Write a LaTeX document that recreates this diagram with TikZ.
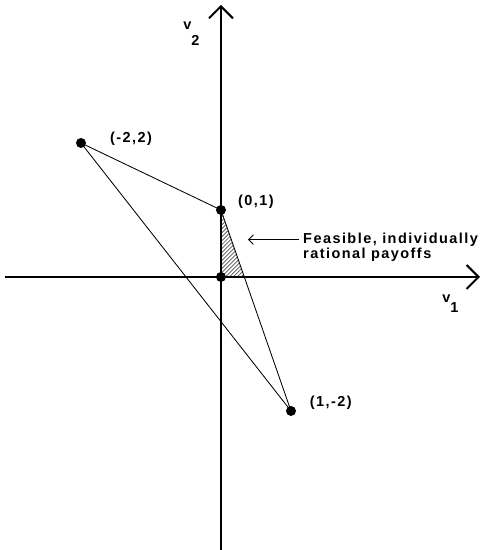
\documentclass[tikz,border=0pt]{standalone}
\usepackage{fontspec}
\setmainfont{Liberation Sans}
\newfontfamily\lblfont[LetterSpace=10]{Liberation Sans}
\usetikzlibrary{arrows.meta,positioning,patterns.meta}
\tikzset{
  axis/.style={line width=1.4pt, -{Straight Barb[length=3mm,width=6mm]}},
  edge/.style={line width=0.6pt},
  dot/.style={circle, fill=black, inner sep=0pt, minimum size=2.5mm},
  lbl/.style={font=\lblfont\bfseries\fontsize{10.3}{10.3}\selectfont, inner sep=0pt},
  note/.style={lbl, anchor=base west},
  arr/.style={-{Straight Barb[length=1.2mm,width=2.4mm]}, line width=0.6pt},
  feas/.style={pattern={Lines[angle=45,distance=2pt,line width=0.5pt]}, pattern color=black!70},
}

\begin{document}
\begin{tikzpicture}[x=1.75cm, y=1.675cm]
  \useasboundingbox (-3.157,-4.075) rectangle (3.729,4.134);
  \coordinate (A) at (-2,2);
  \coordinate (B) at (0,1);
  \coordinate (C) at (1,-2);
  \coordinate (O) at (0,0);
  \coordinate (Q) at (0.3333,0);

  \fill[feas] (B) -- (O) -- (Q) -- cycle;
  \draw[edge] (A) -- (B) -- (C) -- cycle;

  \coordinate (xs) at (-3.086,0);
  \coordinate (xe) at (3.70,0);
  \coordinate (ys) at (0,-4.075);
  \coordinate (ye) at (0,4.06);
  \draw[axis] (xs) -- (xe);
  \draw[axis] (ys) -- (ye);

  \node[dot] (pa) at (A) {};
  \node[dot] (pb) at (B) {};
  \node[dot] (pc) at (C) {};
  \node[dot] (po) at (O) {};

  \node[lbl] (la) at (-1.286,2.07) {(-2,2)};
  \node[lbl] (lb) at (0.5,1.127) {(0,1)};
  \node[lbl] (lc) at (1.57,-1.88) {(1,-2)};

  \node[note] (n1) at (1.171,0.502) {Feasible, individually};
  \node[note] (n2) at (1.171,0.279) {rational payoffs};
  \coordinate (tip) at (0.386,0);
  \draw[arr] ([xshift=-1mm]n1.west) -- (tip |- n1.west);

  \node[lbl, anchor=base west] (v2) at (-0.543,3.70) {v\raisebox{-12pt}{2}};
  \node[lbl, anchor=base west] (v1) at (3.157,-0.388) {v\raisebox{-7pt}{1}};
\end{tikzpicture}
\end{document}
